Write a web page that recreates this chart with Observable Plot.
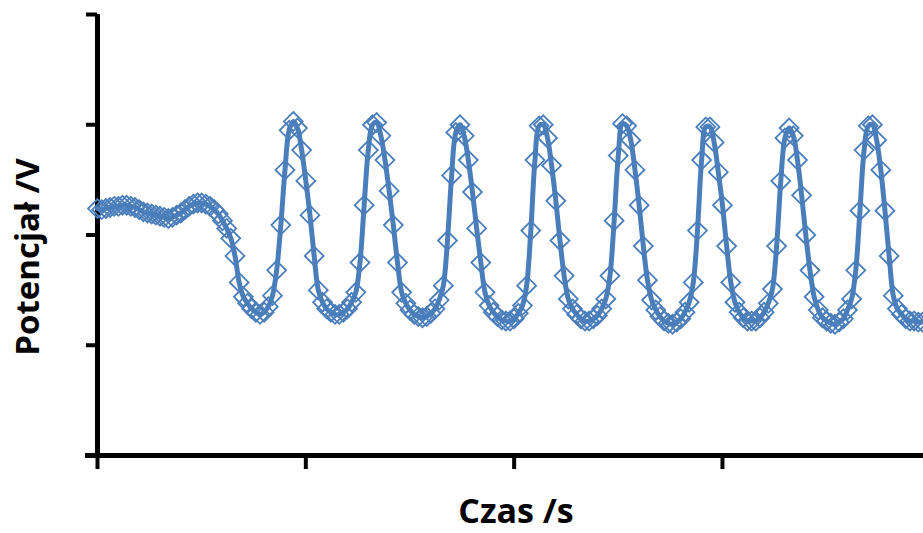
<!DOCTYPE html>
<html><head><meta charset="utf-8">
<script src="https://cdn.jsdelivr.net/npm/d3@7"></script>
<script src="https://cdn.jsdelivr.net/npm/@observablehq/plot@0.6"></script>
<style>body{margin:0;background:#fff}#chart svg{display:block}</style>
</head><body><div id="chart"></div>
<script>
const sampleInterval = 2; // seconds between samples
const potential = [
  2.24,2.23,2.24,2.25,2.26,2.26,2.27,2.27,2.26,2.25,
  2.23,2.21,2.20,2.19,2.18,2.17,2.16,2.15,2.16,2.18,
  2.20,2.23,2.26,2.28,2.29,2.29,2.28,2.26,2.23,2.19,
  2.13,2.06,1.97,1.81,1.57,1.44,1.38,1.33,1.30,1.28,
  1.30,1.35,1.45,1.68,2.09,2.59,2.95,3.03,2.97,2.77,
  2.49,2.18,1.81,1.50,1.39,1.33,1.30,1.28,1.28,1.30,
  1.33,1.39,1.48,1.75,2.27,2.77,3.00,3.02,2.90,2.68,
  2.40,2.09,1.75,1.48,1.38,1.32,1.28,1.26,1.25,1.26,
  1.29,1.33,1.41,1.54,1.95,2.54,2.93,3.00,2.90,2.68,
  2.39,2.06,1.75,1.48,1.36,1.30,1.26,1.23,1.22,1.22,
  1.24,1.29,1.36,1.54,2.04,2.68,2.99,3.00,2.88,2.63,
  2.31,1.95,1.63,1.42,1.33,1.28,1.24,1.22,1.22,1.24,
  1.27,1.33,1.42,1.63,2.13,2.72,3.01,2.99,2.86,2.59,
  2.27,1.90,1.59,1.41,1.32,1.26,1.22,1.20,1.19,1.21,
  1.24,1.30,1.39,1.57,2.04,2.68,2.98,2.98,2.84,2.57,
  2.27,1.90,1.57,1.39,1.30,1.25,1.22,1.22,1.22,1.25,
  1.30,1.38,1.51,1.90,2.49,2.88,2.97,2.90,2.68,2.36,
  2.00,1.68,1.44,1.32,1.25,1.22,1.20,1.19,1.21,1.24,
  1.32,1.42,1.68,2.22,2.77,2.99,3.00,2.86,2.59,2.22,
  1.81,1.45,1.33,1.28,1.24,1.22,1.22,1.21,1.21
];
const xTicks = [0, 100, 200, 300];
const yTicks = [0, 1, 2, 3, 4];
const xDomain = [0, 396.5];
const yDomain = [0, 4];
const xLabel = "Czas /s";
const yLabel = "Potencjał /V";
const blue = "#4a7ebb";

const data = potential.map((v, i) => ({t: i * sampleInterval, v}));

const chart = Plot.plot({
  width: 923, height: 533,
  marginLeft: 97, marginRight: 0, marginTop: 14, marginBottom: 78,
  x: {domain: xDomain, axis: null},
  y: {domain: yDomain, axis: null},
  style: {background: "#fff"},
  marks: [
    Plot.axisY({ticks: yTicks, tickSize: 11, tickFormat: () => "", strokeWidth: 4, stroke: "black", label: null}),
    Plot.axisX({ticks: xTicks, tickSize: 14, tickFormat: () => "", strokeWidth: 4, stroke: "black", label: null}),
    Plot.ruleX([0], {stroke: "black", strokeWidth: 5}),
    Plot.ruleY([0], {stroke: "black", strokeWidth: 5, insetLeft: -12}),
    Plot.dot(data, {x: "t", y: "v", symbol: "diamond2", r: 8.5, stroke: blue, strokeWidth: 1.8, fill: "none"}),
    Plot.line(data, {x: "t", y: "v", stroke: blue, strokeWidth: 5, curve: "catmull-rom"})
  ]
});
const svg = d3.select(chart);
svg.append("text")
  .attr("transform", "translate(39,257) rotate(-90)")
  .attr("text-anchor", "middle")
  .style("font", "bold 33px 'Open Sans'")
  .attr("fill", "black")
  .text(yLabel);
svg.append("text")
  .attr("x", 516).attr("y", 523)
  .attr("text-anchor", "middle")
  .style("font", "bold 34px 'Open Sans'")
  .attr("fill", "black")
  .text(xLabel);
document.getElementById("chart").append(chart);
</script></body></html>
